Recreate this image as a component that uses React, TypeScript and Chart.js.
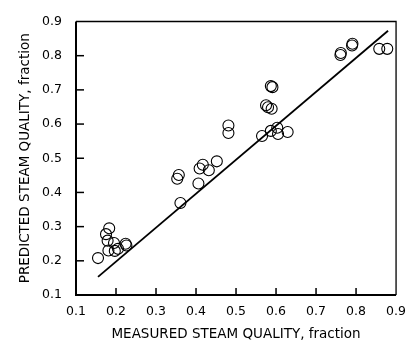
import React, { useEffect, useRef } from "react";
import { Chart, registerables } from "chart.js";

Chart.register(...registerables);

const measured = [
  0.155, 0.175, 0.183, 0.179, 0.181, 0.195, 0.197, 0.205, 0.224, 0.226,
  0.353, 0.357, 0.361, 0.406, 0.409, 0.417, 0.432, 0.452, 0.481, 0.481,
  0.565, 0.587, 0.603, 0.605, 0.629, 0.575, 0.580, 0.589, 0.587, 0.591,
  0.761, 0.762, 0.791, 0.790, 0.858, 0.878,
];
const predicted = [
  0.208, 0.278, 0.295, 0.259, 0.230, 0.252, 0.229, 0.235, 0.250, 0.245,
  0.440, 0.451, 0.369, 0.426, 0.470, 0.481, 0.465, 0.491, 0.596, 0.574,
  0.565, 0.580, 0.589, 0.571, 0.577, 0.655, 0.649, 0.645, 0.711, 0.708,
  0.802, 0.808, 0.835, 0.830, 0.820, 0.820,
];
const fitX = [0.155, 0.88];
const fitY = [0.153, 0.873];
const tickValues = [0.1, 0.2, 0.3, 0.4, 0.5, 0.6, 0.7, 0.8, 0.9];
const tickLabels = ["0.1", "0.2", "0.3", "0.4", "0.5", "0.6", "0.7", "0.8", "0.9"];
const xTitle = "MEASURED STEAM QUALITY, fraction";
const yTitle = "PREDICTED STEAM QUALITY, fraction";

const FONT = "'DejaVu Sans', sans-serif";

const framePlugin = {
  id: "frame",
  afterDraw(chart: any) {
    const { ctx, chartArea } = chart;
    const xs = chart.scales.x;
    const ys = chart.scales.y;
    const { left, right, top, bottom } = chartArea;
    ctx.save();
    ctx.strokeStyle = "#000";
    ctx.lineWidth = 1.3;
    ctx.beginPath();
    ctx.moveTo(left, top);
    ctx.lineTo(right, top);
    ctx.lineTo(right, bottom);
    ctx.stroke();
    ctx.lineWidth = 2;
    ctx.beginPath();
    ctx.moveTo(left, top);
    ctx.lineTo(left, bottom);
    ctx.lineTo(right, bottom);
    ctx.stroke();
    ctx.lineWidth = 1.5;
    tickValues.slice(1, -1).forEach((v) => {
      const px = xs.getPixelForValue(v);
      ctx.beginPath();
      ctx.moveTo(px, bottom);
      ctx.lineTo(px, bottom - 7);
      ctx.stroke();
      const py = ys.getPixelForValue(v);
      ctx.beginPath();
      ctx.moveTo(left, py);
      ctx.lineTo(left + 8, py);
      ctx.stroke();
    });
    ctx.restore();
  },
};

export default function App() {
  const ref = useRef<HTMLCanvasElement>(null);
  useEffect(() => {
    document.body.style.margin = "0";
    const chart = new Chart(ref.current!, {
      type: "scatter",
      data: {
        datasets: [
          {
            type: "scatter",
            data: measured.map((x, i) => ({ x, y: predicted[i] })),
            pointStyle: "circle",
            pointRadius: 5.5,
            borderColor: "#000",
            backgroundColor: "rgba(0,0,0,0)",
            borderWidth: 1.1,
          },
          {
            type: "line",
            data: fitX.map((x, i) => ({ x, y: fitY[i] })),
            borderColor: "#000",
            borderWidth: 1.8,
            pointRadius: 0,
            fill: false,
          } as any,
        ],
      },
      options: {
        animation: false,
        responsive: true,
        maintainAspectRatio: false,
        layout: { padding: { top: 10, right: 12, left: 0, bottom: 0 } },
        plugins: { legend: { display: false }, tooltip: { enabled: false } },
        scales: {
          x: {
            type: "linear",
            min: 0.1,
            max: 0.9,
            afterBuildTicks: (s: any) => {
              s.ticks = tickValues.map((v) => ({ value: v }));
            },
            afterFit: (s: any) => {
              s.height = 52;
            },
            grid: { display: false, drawTicks: false },
            border: { display: false },
            ticks: {
              color: "#000",
              font: { family: FONT, size: 12.5 },
              padding: 9,
              maxRotation: 0,
              callback: (v: any, i: number) => tickLabels[i],
            },
            title: {
              display: true,
              text: xTitle,
              color: "#000",
              font: { family: FONT, size: 13.5 },
              padding: { top: 0, bottom: 4 },
            },
          },
          y: {
            type: "linear",
            min: 0.1,
            max: 0.9,
            afterBuildTicks: (s: any) => {
              s.ticks = tickValues.map((v) => ({ value: v }));
            },
            afterFit: (s: any) => {
              s.width = 76;
            },
            grid: { display: false, drawTicks: false },
            border: { display: false },
            ticks: {
              color: "#000",
              font: { family: FONT, size: 12.5 },
              padding: 14,
              callback: (v: any, i: number) => tickLabels[i],
            },
            title: {
              display: true,
              text: yTitle,
              color: "#000",
              font: { family: FONT, size: 13.5 },
              padding: { top: 17, bottom: 0 },
            },
          },
        },
      },
      plugins: [framePlugin],
    });
    return () => chart.destroy();
  }, []);
  return (
    <div style={{ position: "fixed", left: 0, top: 0, width: 415, height: 347 }}>
      <canvas ref={ref} />
    </div>
  );
}
